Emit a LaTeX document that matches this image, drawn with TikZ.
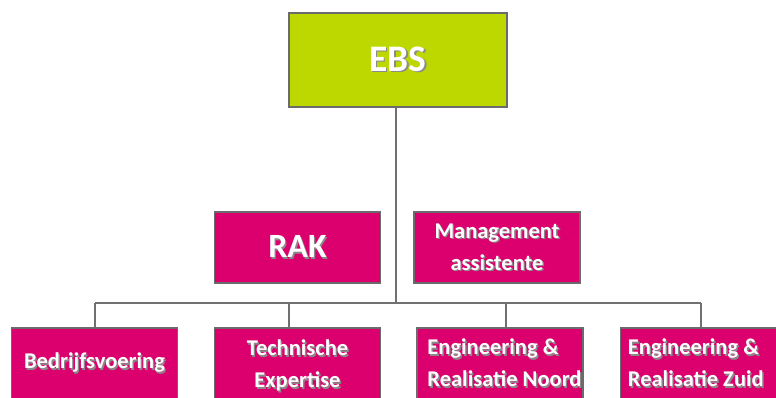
\documentclass[tikz,border=0pt]{standalone}
\usepackage{fontspec}
\setmainfont{Carlito}
\usepackage{tikz}
\usetikzlibrary{positioning}

\definecolor{ebsgreen}{HTML}{BDD800}
\definecolor{unitpink}{HTML}{DC006E}
\definecolor{framegray}{HTML}{6B6B6B}
\definecolor{linegray}{HTML}{707070}
\definecolor{shadowgray}{HTML}{8A8A8A}

% white text with a small grey drop shadow
\newcommand{\sh}[1]{\rlap{\color{shadowgray}\kern1.4pt\raisebox{-1.4pt}{#1}}#1}

\tikzset{
  unitbox/.style={draw=framegray, line width=1.5pt, fill=unitpink, text=white,
    minimum width=166pt, minimum height=71pt, inner sep=0pt, align=center,
    font=\bfseries\fontsize{22.5}{32}\selectfont},
  topbox/.style={unitbox, fill=ebsgreen, minimum width=218pt, minimum height=94pt,
    font=\bfseries\fontsize{37.5}{40}\selectfont},
  boxtext/.style={text=white, inner sep=0pt, align=left, anchor=west,
    font=\bfseries\fontsize{22.5}{32}\selectfont},
  conn/.style={draw=linegray, line width=2pt}
}

\begin{document}
\begin{tikzpicture}[x=1pt,y=-1pt]
\useasboundingbox (0,0) rectangle (776,398);

\node[topbox] (ebs) at (398,60) {\sh{EBS}};

\node[unitbox, font=\bfseries\fontsize{34}{36}\selectfont] (rak) at (297.5,247.5) {\sh{RAK}};
\node[unitbox] (mgmt) at (497,247.5) {\sh{Management}\\\sh{assistente}};

\node[unitbox] (bedr) at (94.5,363.5) {\raisebox{3pt}{\sh{Bedrijfsvoering}}};
\node[unitbox] (tech) at (297.5,363.5) {};
\node[unitbox] (noord) at (500,363.5) {};
\node[unitbox] (zuid) at (703.5,363.5) {};
\node[boxtext, anchor=center, align=center] (techtxt) at ([yshift=-3pt]tech.center) {\sh{Technische}\\\sh{Expertise}};
\node[boxtext] (noordtxt) at ([xshift=11pt]noord.west) {\sh{Engineering \&}\\\sh{Realisatie Noord}};
\node[boxtext] (zuidtxt) at ([xshift=8pt]zuid.west) {\sh{Engineering \&}\\\sh{Realisatie Zuid}};

% connectors
\coordinate (stem) at (396,303);
\coordinate (d1) at (95,303);
\coordinate (d2) at (289,303);
\coordinate (d3) at (506,303);
\coordinate (d4) at (701,303);

\draw[conn] (ebs.south -| stem) -- (stem);
\draw[conn] (d1) -- (d4);
\draw[conn] (d1) -- (d1 |- bedr.north);
\draw[conn] (d2) -- (d2 |- tech.north);
\draw[conn] (d3) -- (d3 |- noord.north);
\draw[conn] (d4) -- (d4 |- zuid.north);
\end{tikzpicture}
\end{document}
